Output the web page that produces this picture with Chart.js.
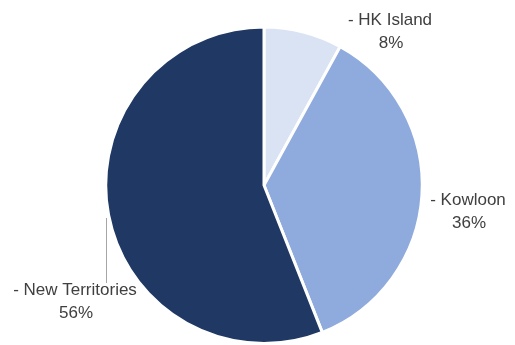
<!DOCTYPE html>
<html>
<head>
<meta charset="utf-8">
<script src="https://cdn.jsdelivr.net/npm/chart.js@4"></script>
<style>
  html, body { margin: 0; padding: 0; background: #fff; }
  #wrap { width: 515px; height: 345px; }
</style>
</head>
<body>
<div id="wrap"><canvas id="districtPie" width="515" height="345"></canvas></div>
<script>
var districts = ['HK Island', 'Kowloon', 'New Territories'];
var shares = [8, 36, 56];
var sliceColors = ['#dae3f3', '#8faadc', '#203864'];

// where each "- name / pct" label sits on the canvas
var labelSpots = [
    { x: 390, y: 20 },
    { x: 468, y: 200 },
    { x: 75, y: 290 }
];

var calloutLabels = {
    id: 'calloutLabels',
    afterDraw: function(chart) {
        var ctx = chart.ctx;
        ctx.save();
        // leader line for the left label
        ctx.strokeStyle = '#a6a6a6';
        ctx.lineWidth = 1;
        ctx.beginPath();
        ctx.moveTo(106.5, 218);
        ctx.lineTo(106.5, 283);
        ctx.stroke();

        ctx.fillStyle = '#404040';
        ctx.font = '17px "Liberation Sans", Arial, sans-serif';
        ctx.textAlign = 'center';
        ctx.textBaseline = 'middle';
        districts.forEach(function(name, i) {
            var p = labelSpots[i];
            ctx.fillText('- ' + name, p.x, p.y);
            ctx.fillText(shares[i] + '%', p.x + 1, p.y + 23);
        });
        ctx.restore();
    }
};

new Chart(document.getElementById('districtPie'), {
    type: 'pie',
    data: {
        labels: districts,
        datasets: [{
            data: shares,
            backgroundColor: sliceColors,
            borderColor: '#ffffff',
            borderWidth: 3
        }]
    },
    options: {
        responsive: false,
        animation: false,
        layout: { padding: { top: 25.5, bottom: -3.5, left: 102.5, right: 89.5 } },
        plugins: {
            legend: { display: false },
            tooltip: { enabled: false }
        }
    },
    plugins: [calloutLabels]
});
</script>
</body>
</html>
